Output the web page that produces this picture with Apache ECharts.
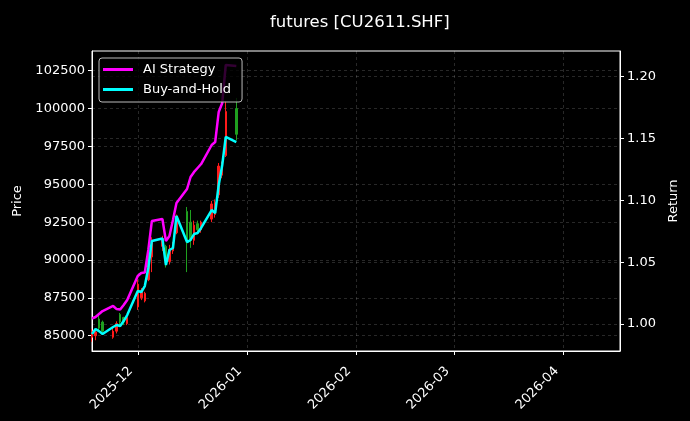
<!DOCTYPE html>
<html>
<head>
<meta charset="utf-8">
<script src="https://cdn.jsdelivr.net/npm/echarts@6/dist/echarts.min.js"></script>
<style>
  html, body { margin: 0; padding: 0; background: #000; }
  #chart { width: 690px; height: 421px; }
</style>
</head>
<body>
<div id="chart"></div>
<script>
// trading days
const dates = ['2025-11-18', '2025-11-19', '2025-11-20', '2025-11-21', '2025-11-24',
  '2025-11-25', '2025-11-26', '2025-11-27', '2025-11-28', '2025-12-01',
  '2025-12-02', '2025-12-03', '2025-12-04', '2025-12-05', '2025-12-08',
  '2025-12-09', '2025-12-10', '2025-12-11', '2025-12-12', '2025-12-15',
  '2025-12-16', '2025-12-17', '2025-12-18', '2025-12-19', '2025-12-22',
  '2025-12-23', '2025-12-24', '2025-12-25', '2025-12-26', '2025-12-29'];

// candles (price, left axis)
const opens  = [84900, 85000, 86100, 85900, 84900, 85300, 86400, 86200, 85800, 86900,
  87500, 87300, 88700, 90200, 90900, 90900, 89900, 90600, 91800, 93200,
  92500, 91300, 92400, 92000, 92700, 93000, 94300, 95600, 96900, 100000];
const closes = [85300, 85250, 85500, 85300, 85300, 85800, 85900, 85900, 86200, 88400,
  88000, 87800, 90300, 91300, 91400, 89700, 90700, 90900, 92900, 91200,
  91300, 92300, 92000, 92500, 93700, 93800, 96200, 96400, 99800, 98300];
const lows   = [84600, 84700, 85300, 85200, 84800, 85150, 85600, 85700, 85700, 86700,
  87350, 87200, 88600, 89200, 90600, 89500, 89700, 90400, 91700, 89200,
  90800, 91000, 91700, 91800, 92500, 92800, 94100, 95400, 96800, 97900];
const highs  = [85450, 85400, 86300, 86000, 85600, 85950, 86500, 86250, 86300, 88700,
  88150, 87900, 90500, 91500, 91600, 91000, 91000, 91200, 93000, 93500,
  93300, 92600, 92600, 92600, 93900, 94000, 96400, 96500, 100500, 100700];

// cumulative returns (right axis)
const aiStrategy = [1.0045, 1.0057, 1.0081, 1.0105, 1.0146, 1.0121, 1.0117, 1.0154, 1.0194, 1.0388,
  1.0413, 1.0417, 1.0599, 1.0833, 1.0850, 1.0672, 1.0712, 1.0841, 1.0979, 1.1092,
  1.1189, 1.1230, 1.1262, 1.1294, 1.1448, 1.1472, 1.1715, 1.1788, 1.2095, 1.2087];
const buyHold = [0.9919, 0.9960, 0.9943, 0.9919, 0.9976, 0.9992, 0.9984, 1.0024, 1.0073, 1.0267,
  1.0259, 1.0307, 1.0453, 1.0672, 1.0692, 1.0477, 1.0599, 1.0615, 1.0874, 1.0663,
  1.0680, 1.0728, 1.0736, 1.0777, 1.0922, 1.0898, 1.1125, 1.1286, 1.1513, 1.1472];

const priceTicks = [85000, 87500, 90000, 92500, 95000, 97500, 100000, 102500];
const returnTicks = [1.00, 1.05, 1.10, 1.15, 1.20];

const font = 'DejaVu Sans';
const gridLine = { show: true, lineStyle: { color: 'rgba(255,255,255,0.2)', type: [3, 3], width: 0.8 } };

const chart = echarts.init(document.getElementById('chart'));
chart.setOption({
  backgroundColor: '#000',
  animation: false,
  textStyle: { fontFamily: font },
  title: {
    text: 'futures [CU2611.SHF]',
    left: 265, top: 9,
    textStyle: { color: '#fff', fontSize: 16.5, fontWeight: 'normal', fontFamily: font }
  },
  legend: {
    orient: 'vertical', left: 99, top: 58,
    data: [{ name: 'AI Strategy', icon: 'rect' }, { name: 'Buy-and-Hold', icon: 'rect' }],
    itemWidth: 30, itemHeight: 3, itemGap: 7,
    padding: [5, 11, 6, 4],
    backgroundColor: 'rgba(0,0,0,0.8)', borderColor: '#bbb', borderWidth: 1, borderRadius: 3,
    textStyle: { color: '#fff', fontSize: 13, fontFamily: font, padding: [0, 0, 0, 5] }
  },
  grid: { left: 92, right: 70, top: 51, bottom: 70, show: true, borderColor: '#fff', borderWidth: 1 },
  xAxis: {
    type: 'time', min: '2025-11-18', max: '2026-04-17',
    axisLine: { lineStyle: { color: '#fff' } },
    axisTick: { show: true, length: 4, lineStyle: { color: '#fff' } },
    axisLabel: { color: '#fff', fontSize: 13, rotate: 45, margin: 11, padding: [0, 10, 0, 0],
      formatter: '{yyyy}-{MM}', fontFamily: font },
    splitLine: gridLine
  },
  yAxis: [{
    type: 'value', position: 'left', min: 83990, max: 103800,
    name: 'Price', nameLocation: 'middle', nameRotate: 90, nameGap: 67,
    nameTextStyle: { color: '#fff', fontSize: 13, fontFamily: font },
    axisLine: { show: true, lineStyle: { color: '#fff' } },
    axisTick: { show: true, length: 4, lineStyle: { color: '#fff' }, customValues: priceTicks },
    axisLabel: { color: '#fff', fontSize: 13, margin: 7, customValues: priceTicks,
      formatter: v => String(v), fontFamily: font },
    splitLine: gridLine
  }, {
    type: 'value', position: 'right', min: 0.9782, max: 1.2208,
    name: 'Return', nameLocation: 'middle', nameRotate: 90, nameGap: 47,
    nameTextStyle: { color: '#fff', fontSize: 13, fontFamily: font },
    axisLine: { show: true, lineStyle: { color: '#fff' } },
    axisTick: { show: true, length: 4, lineStyle: { color: '#fff' }, customValues: returnTicks },
    axisLabel: { color: '#fff', fontSize: 13, margin: 7, customValues: returnTicks,
      formatter: v => v.toFixed(2), fontFamily: font },
    splitLine: gridLine
  }],
  series: [{
    type: 'candlestick', name: 'Price', yAxisIndex: 0, barWidth: 2,
    itemStyle: { color: '#ff1a1a', color0: '#1fa01f', borderColor: '#ff1a1a', borderColor0: '#1fa01f', borderWidth: 1 },
    data: dates.map((d, i) => [d, opens[i], closes[i], lows[i], highs[i]])
  }, {
    type: 'line', name: 'AI Strategy', yAxisIndex: 1, showSymbol: false,
    lineStyle: { color: '#ff00ff', width: 2.5 }, itemStyle: { color: '#ff00ff' },
    data: dates.map((d, i) => [d, aiStrategy[i]])
  }, {
    type: 'line', name: 'Buy-and-Hold', yAxisIndex: 1, showSymbol: false,
    lineStyle: { color: '#00ffff', width: 2.5 }, itemStyle: { color: '#00ffff' },
    data: dates.map((d, i) => [d, buyHold[i]])
  }]
});
</script>
</body>
</html>
